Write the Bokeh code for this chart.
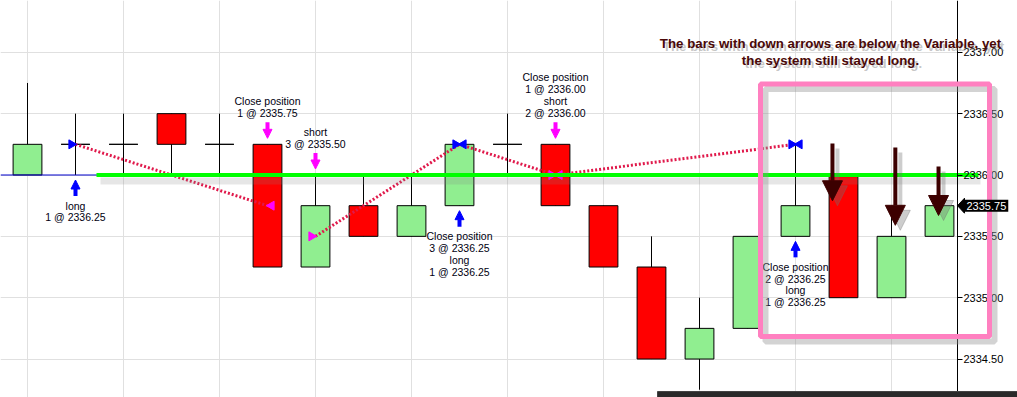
import numpy as np
from bokeh.plotting import figure
from bokeh.models import (ColumnDataSource, FixedTicker, NumeralTickFormatter, Range1d,
                          Arrow, NormalHead, Label, PolyAnnotation)
from bokeh.core.properties import value
from bokeh.embed import file_html
from bokeh.resources import INLINE

# ---------------- data ----------------
opens  = [2336.00, 2336.25, 2336.25, 2336.50, 2336.25, 2336.25, 2335.25, 2335.75, 2335.50, 2335.75,
          2336.25, 2336.25, 2335.75, 2335.25, 2334.50, 2334.75, 2335.50, 2336.00, 2335.00, 2335.50]
highs  = [2336.75, 2336.50, 2336.50, 2336.50, 2336.50, 2336.25, 2336.00, 2336.00, 2336.00, 2336.25,
          2336.50, 2336.25, 2335.75, 2335.50, 2335.00, 2335.50, 2336.25, 2336.00, 2335.75, 2335.75]
lows   = [2336.00, 2336.00, 2336.00, 2336.00, 2336.00, 2335.25, 2335.25, 2335.50, 2335.50, 2335.75,
          2336.00, 2335.75, 2335.25, 2334.50, 2334.25, 2334.75, 2335.50, 2335.00, 2335.00, 2335.50]
closes = [2336.25, 2336.25, 2336.25, 2336.25, 2336.25, 2335.25, 2335.75, 2335.50, 2335.75, 2336.25,
          2336.25, 2335.75, 2335.25, 2334.50, 2334.75, 2335.50, 2335.75, 2335.00, 2335.50, 2335.75]

entry_bar   = [1, 6, 9, 11, 16]
entry_price = [2336.25, 2335.50, 2336.25, 2336.00, 2336.25]
entry_side  = ["long", "short", "long", "short", "long"]
exit_bar    = [5, 9, 11, 16]
exit_price  = [2335.75, 2336.25, 2336.00, 2336.25]

buy_signal_bar  = [1, 9, 16]
buy_signal_text = [["long", "1 @ 2336.25"],
                   ["Close position", "3 @ 2336.25", "long", "1 @ 2336.25"],
                   ["Close position", "2 @ 2336.25", "long", "1 @ 2336.25"]]
sell_signal_bar  = [5, 6, 11]
sell_signal_text = [["Close position", "1 @ 2335.75"],
                    ["short", "3 @ 2335.50"],
                    ["Close position", "1 @ 2336.00", "short", "2 @ 2336.00"]]

variable_level = 2336.00
last_price = 2335.75
y_ticks = [2334.50, 2335.00, 2335.50, 2336.00, 2336.50, 2337.00]
note_lines = ["The bars with down arrows are below the Variable, yet",
              "the system still stayed long."]

# hand-drawn annotation arrows (bar position, start price, end price)
note_arrow_x  = [16.77, 18.08, 18.98]
note_arrow_y0 = [2336.256, 2336.224, 2336.07]
note_arrow_y1 = [2335.79, 2335.59, 2335.67]

# ---------------- layout ----------------
W, H = 1017, 397
PPX = 48.0                      # pixels per bar
X0 = -27.0 / PPX                # left edge of the frame
X1 = X0 + W / PPX               # right edge of the frame
XA = X0 + 957.0 / PPX           # price axis location
Y0, Y1 = 2334.1866, 2337.4222
PPY = H / (Y1 - Y0)             # pixels per point

def dx(px):
    return px / PPX

def dy(px):
    return px / PPY

p = figure(width=W, height=H, x_range=Range1d(X0, X1), y_range=Range1d(Y0, Y1),
           y_axis_location="right", output_backend="svg", toolbar_location=None,
           min_border_left=0, min_border_right=0, min_border_top=0, min_border_bottom=0)
p.outline_line_color = None
p.background_fill_color = "white"
p.border_fill_color = "white"
p.xaxis.visible = False
p.xgrid.ticker = FixedTicker(ticks=list(range(0, 20, 2)))
p.ygrid.ticker = FixedTicker(ticks=y_ticks)
p.xgrid.grid_line_color = "#e0e0e0"
p.ygrid.grid_line_color = "#e0e0e0"

ax = p.yaxis[0]
ax.fixed_location = XA
ax.ticker = FixedTicker(ticks=y_ticks)
ax.formatter = NumeralTickFormatter(format="0.00")
ax.axis_line_color = "black"
ax.major_tick_line_color = "black"
ax.major_tick_out = 5
ax.major_tick_in = 0
ax.minor_tick_line_color = None
ax.major_label_standoff = 1
ax.major_label_text_font = "Liberation Sans"
ax.major_label_text_font_size = "11px"
ax.major_label_text_color = "black"

# white area right of the price axis (hides grid lines there)
p.quad(left=[XA], right=[X1], bottom=[Y0], top=[Y1], fill_color="white", line_color=None)

# ---------------- candles ----------------
idx = list(range(len(opens)))
colors = ["#90ee90" if c > o else ("#ff0000" if c < o else "black") for o, c in zip(opens, closes)]
src = ColumnDataSource(dict(x=idx, o=opens, h=highs, l=lows, c=closes,
                            top=[max(o, c) for o, c in zip(opens, closes)],
                            bot=[min(o, c) for o, c in zip(opens, closes)],
                            col=colors))
p.segment("x", "h", "x", "l", source=src, line_color="black", line_width=1)
p.vbar(x="x", top="top", bottom="bot", width=0.6, source=src, fill_color="col", line_color="black", line_width=1)

# thin blue variable line
p.segment(x0=[X0], y0=[variable_level], x1=[XA], y1=[variable_level], line_color="#0000cc", line_width=1)

# ---------------- trade connectors ----------------
conn = ColumnDataSource(dict(x0=entry_bar[:len(exit_bar)], y0=entry_price[:len(exit_bar)],
                             x1=exit_bar, y1=exit_price))
p.segment("x0", "y0", "x1", "y1", source=conn, line_color="#e0194b", line_width=3, line_dash="2 2")

ent_col = ["#0000ff" if s == "long" else "#ff00ff" for s in entry_side]
ex_col = ["#ff00ff" if entry_side[i] == "long" else "#0000ff" for i in range(len(exit_bar))]
p.scatter(x=[b - dx(4) for b in entry_bar], y=entry_price, marker="triangle", size=9,
          angle=-np.pi / 2, fill_color=ent_col, line_color=ent_col)
p.scatter(x=[b + dx(4) for b in exit_bar], y=exit_price, marker="triangle", size=9,
          angle=np.pi / 2, fill_color=ex_col, line_color=ex_col)

# ---------------- variable (green) line ----------------
gx0, gx1 = X0 + dx(96), X0 + dx(978)
p.line(x=[gx0 + dx(4), gx1 + dx(2)], y=[variable_level - dy(6)] * 2, line_color="#808080",
       line_alpha=0.2, line_width=7)
p.line(x=[gx0, gx1], y=[variable_level] * 2, line_color="#00ff00", line_width=4)

# ---------------- signal arrows and texts ----------------
tx, ty, tt = [], [], []
bx0, by0, by1 = [], [], []
for b, lines in zip(buy_signal_bar, buy_signal_text):
    low = lows[b]
    bx0.append(b); by0.append(low - dy(21)); by1.append(low - dy(5))
    for k, s in enumerate(lines):
        tx.append(b); ty.append(low - dy(30.5 + 11.8 * k)); tt.append(s)
sx0, sy0, sy1 = [], [], []
for b, lines in zip(sell_signal_bar, sell_signal_text):
    hi = highs[b]
    sx0.append(b); sy0.append(hi + dy(22)); sy1.append(hi + dy(6))
    n = len(lines)
    for k, s in enumerate(lines):
        tx.append(b); ty.append(hi + dy(31.5 + 11.8 * (n - 1 - k))); tt.append(s)

p.text(x=tx, y=ty, text=tt, text_align="center", text_baseline="middle",
       text_font=value("Liberation Sans"), text_font_size="10.5px", text_color="#000010")

p.add_layout(Arrow(end=NormalHead(size=9, fill_color="#0000ff", line_color="#0000ff", line_width=1),
                   source=ColumnDataSource(dict(x=bx0, y0=by0, y1=by1)),
                   x_start="x", y_start="y0", x_end="x", y_end="y1",
                   line_color="#0000ff", line_width=4))
p.add_layout(Arrow(end=NormalHead(size=9, fill_color="#ff00ff", line_color="#ff00ff", line_width=1),
                   source=ColumnDataSource(dict(x=sx0, y0=sy0, y1=sy1)),
                   x_start="x", y_start="y0", x_end="x", y_end="y1",
                   line_color="#ff00ff", line_width=4))

# ---------------- highlight box ----------------
bl, br, bt, bb = X0 + dx(760), X0 + dx(989), 2336.742, 2334.684
sh = 5
p.add_layout(PolyAnnotation(xs=[bl + dx(sh), br + dx(sh), br + dx(sh), bl + dx(sh)],
                            ys=[bt - dy(sh), bt - dy(sh), bb - dy(sh), bb - dy(sh)],
                            fill_alpha=0, line_color="#909090", line_alpha=0.4, line_width=6))
p.add_layout(PolyAnnotation(xs=[bl, br, br, bl], ys=[bt, bt, bb, bb],
                            fill_alpha=0, line_color="#ff80c0", line_alpha=1, line_width=5))

# ---------------- note arrows ----------------
for off, col, alpha in [(5, "#707070", 0.35), (0, "#3c0000", 1.0)]:
    p.add_layout(Arrow(end=NormalHead(size=20, fill_color=col, fill_alpha=alpha, line_color=col,
                                      line_alpha=alpha, line_width=1),
                       source=ColumnDataSource(dict(x0=[x + dx(off) for x in note_arrow_x],
                                                    y0=[y - dy(off) for y in note_arrow_y0],
                                                    x1=[x + dx(off) for x in note_arrow_x],
                                                    y1=[y - dy(off) for y in note_arrow_y1])),
                       x_start="x0", y_start="y0", x_end="x1", y_end="y1",
                       line_color=col, line_alpha=alpha, line_width=4))

# ---------------- note text ----------------
note_x = X0 + dx(830)
note_y = [2337.072, 2336.933]
for line, yy in zip(note_lines, note_y):
    p.add_layout(Label(x=note_x, y=yy, text=line, text_align="center", text_baseline="middle",
                       x_offset=3, y_offset=-3, text_font="Liberation Sans", text_font_style="bold",
                       text_font_size="13.3px", text_color="#808080", text_alpha=0.45))
    p.add_layout(Label(x=note_x, y=yy, text=line, text_align="center", text_baseline="middle",
                       text_font="Liberation Sans", text_font_style="bold",
                       text_font_size="13.3px", text_color="#4a0808"))

# ---------------- last price tag ----------------
tag_x = XA + dx(7)
p.add_layout(PolyAnnotation(xs=[XA, tag_x, tag_x], ys=[last_price, last_price + dy(7.5), last_price - dy(7.5)],
                            fill_color="black", fill_alpha=1, line_color="black", line_alpha=1))
p.add_layout(Label(x=tag_x, y=last_price, text=f"{last_price:.2f}", text_align="left", text_baseline="middle",
                   text_font="Liberation Sans", text_font_size="11px", text_color="white",
                   background_fill_color="black", padding=2))

# ---------------- bottom bar ----------------
p.add_layout(PolyAnnotation(xs=[X0 + dx(657), X1 + 1, X1 + 1, X0 + dx(657)],
                            ys=[Y0 + dy(6), Y0 + dy(6), Y0 - dy(2), Y0 - dy(2)],
                            fill_color="#2a2a2a", fill_alpha=1, line_color="#444444", line_alpha=1,
                            line_width=1))

html = file_html(p, INLINE)
html = html.replace("<body>", '<body style="margin:0">')
open("out.html", "w").write(html)
